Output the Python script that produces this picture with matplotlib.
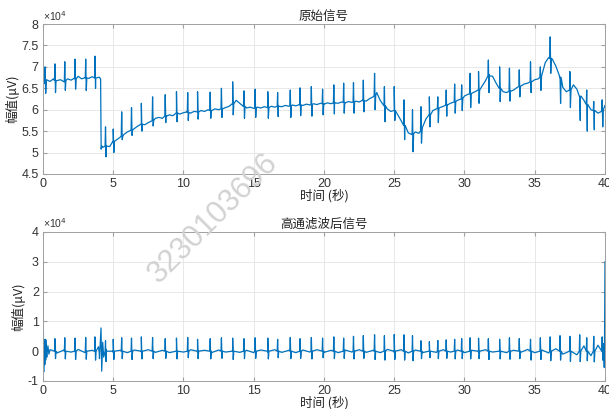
import numpy as np
import matplotlib
matplotlib.use('Agg')
import matplotlib.pyplot as plt

plt.rcParams['font.family'] = ['Liberation Sans', 'Noto Sans CJK SC', 'DejaVu Sans']
CJK = ['Noto Sans CJK SC', 'DejaVu Sans']

# ---------------- data (values in units of 1e4 uV) ----------------
# raw-signal baseline, sampled every 0.25 s from 0 to 40 s
base_step = 0.25
base_v = [
    6.60, 6.70, 6.66, 6.72, 6.68, 6.70, 6.65, 6.72,
    6.69, 6.74, 6.78, 6.72, 6.75, 6.73, 6.77, 6.72,
    6.76, 5.12, 5.16, 5.14, 5.26, 5.30, 5.36, 5.42,
    5.48, 5.52, 5.56, 5.62, 5.66, 5.65, 5.70, 5.74,
    5.80, 5.82, 5.80, 5.86, 5.88, 5.86, 5.92, 5.90,
    5.93, 5.95, 5.92, 5.96, 5.95, 5.98, 5.96, 6.00,
    5.98, 6.02, 6.00, 6.03, 6.05, 6.08, 6.14, 6.22,
    6.15, 6.08, 6.04, 6.06, 6.03, 6.06, 6.04, 6.07,
    6.05, 6.08, 6.06, 6.09, 6.07, 6.10, 6.08, 6.11,
    6.09, 6.12, 6.10, 6.13, 6.11, 6.14, 6.12, 6.15,
    6.13, 6.16, 6.14, 6.17, 6.15, 6.18, 6.16, 6.19,
    6.17, 6.20, 6.18, 6.22, 6.20, 6.26, 6.30, 6.40,
    6.22, 6.10, 6.02, 5.96, 5.98, 5.88, 5.74, 5.60,
    5.46, 5.42, 5.48, 5.45, 5.58, 5.78, 5.88, 5.98,
    6.02, 6.05, 6.08, 6.12, 6.15, 6.18, 6.22, 6.25,
    6.32, 6.36, 6.38, 6.42, 6.46, 6.55, 6.68, 6.82,
    6.78, 6.62, 6.50, 6.42, 6.40, 6.44, 6.46, 6.52,
    6.55, 6.60, 6.62, 6.66, 6.70, 6.72, 6.80, 7.10,
    7.22, 7.18, 7.02, 6.80, 6.52, 6.42, 6.46, 6.58,
    6.48, 6.30, 6.22, 6.10, 6.00, 5.98, 5.92, 5.96,
    6.10,
]

# electrode shift around 4.1 s in the raw signal
drop_t = [4.10, 4.14, 4.18]
drop_v = [6.72, 5.08, 5.16]

# heart beats (R peak times) and the levels
beat_t = [0.15, 0.85, 1.55, 2.28, 3.04, 3.70, 4.45, 5.00, 5.60, 6.30,
          7.00, 7.80, 8.70, 9.50, 10.30, 11.00, 11.90, 12.70, 13.50, 14.30,
          15.10, 16.00, 16.70, 17.60, 18.30, 19.10, 19.90, 20.70, 21.40, 22.10,
          22.80, 23.60, 24.30, 25.00, 25.70, 26.30, 26.90, 27.50, 28.10, 28.70,
          29.30, 29.80, 30.40, 31.00, 31.70, 32.50, 33.20, 33.90, 34.70, 35.40,
          36.10, 36.80, 37.50, 38.20, 38.70, 39.20, 39.80]
raw_level = [6.62, 6.68, 6.68, 6.72, 6.74, 6.74, 5.15, 5.26, 5.38, 5.53,
             5.66, 5.75, 5.85, 5.92, 5.94, 5.95, 5.98, 6.02, 6.14, 6.08,
             6.04, 6.05, 6.08, 6.09, 6.11, 6.12, 6.14, 6.16, 6.17, 6.18,
             6.21, 6.33, 6.09, 5.98, 5.63, 5.44, 5.50, 5.88, 6.03, 6.11,
             6.19, 6.26, 6.37, 6.46, 6.79, 6.50, 6.43, 6.54, 6.65, 6.76,
             7.20, 6.75, 6.46, 6.32, 6.12, 5.98, 6.00]
raw_peak = [7.00, 7.07, 7.12, 7.18, 7.18, 7.25, 5.60, 5.55, 5.95, 6.05,
            6.15, 6.30, 6.35, 6.42, 6.40, 6.42, 6.41, 6.50, 6.65, 6.44,
            6.48, 6.42, 6.40, 6.46, 6.51, 6.54, 6.48, 6.58, 6.62, 6.63,
            6.69, 6.85, 6.54, 6.54, 6.23, 6.00, 6.07, 6.30, 6.30, 6.46,
            6.60, 6.58, 6.85, 6.89, 7.16, 7.00, 6.97, 6.93, 7.12, 7.00,
            7.70, 6.77, 6.89, 6.30, 6.46, 6.19, 6.23]
raw_trough = [6.38, 6.40, 6.45, 6.48, 6.45, 6.50, 4.90, 5.00, 5.30, 5.40,
              5.50, 5.62, 5.70, 5.72, 5.75, 5.78, 5.80, 5.82, 5.88, 5.80,
              5.82, 5.80, 5.84, 5.82, 5.86, 5.85, 5.88, 5.90, 5.92, 5.92,
              5.95, 6.00, 5.72, 5.75, 5.30, 5.02, 5.22, 5.60, 5.70, 5.85,
              5.92, 5.98, 6.05, 6.15, 6.40, 6.19, 6.20, 6.30, 6.40, 6.45,
              6.85, 6.15, 6.05, 5.75, 5.50, 5.53, 5.60]
hp_peak = [0.40, 0.42, 0.45, 0.44, 0.46, 0.48, 0.35, 0.40, 0.45, 0.44,
           0.48, 0.46, 0.42, 0.44, 0.46, 0.40, 0.42, 0.45, 0.44, 0.42,
           0.45, 0.44, 0.40, 0.46, 0.42, 0.46, 0.44, 0.48, 0.44, 0.50,
           0.52, 0.55, 0.52, 0.56, 0.55, 0.52, 0.35, 0.32, 0.36, 0.38,
           0.40, 0.42, 0.45, 0.44, 0.42, 0.40, 0.45, 0.42, 0.40, 0.45,
           0.48, 0.52, 0.50, 0.55, 0.45, 0.50, 0.48]
hp_trough = [-0.30, -0.25, -0.26, -0.28, -0.27, -0.30, -0.35, -0.28, -0.25, -0.28,
             -0.26, -0.25, -0.24, -0.26, -0.22, -0.25, -0.26, -0.24, -0.28, -0.25,
             -0.24, -0.26, -0.22, -0.25, -0.24, -0.26, -0.22, -0.25, -0.24, -0.26,
             -0.24, -0.28, -0.30, -0.28, -0.30, -0.32, -0.25, -0.22, -0.25, -0.24,
             -0.26, -0.25, -0.26, -0.25, -0.28, -0.26, -0.27, -0.25, -0.30, -0.28,
             -0.32, -0.30, -0.34, -0.35, -0.32, -0.36, -0.30]

# filtered signal: residual ripple every 0.5 s from 0.5 to 39.5 s
hp_noise_step = 0.5
hp_noise_v = [
    0.05, -0.06, 0.04, -0.03, 0.06, -0.05, 0.03, -0.04,
    0.06, -0.04, 0.03, -0.05, 0.04, -0.03, 0.05, -0.04,
    0.03, -0.05, 0.04, -0.03, 0.05, -0.04, 0.03, -0.05,
    0.04, -0.03, 0.06, -0.04, 0.03, -0.05, 0.04, -0.03,
    0.05, -0.04, 0.03, -0.05, 0.04, -0.03, 0.05, -0.04,
    0.03, -0.05, 0.04, -0.03, 0.05, -0.04, 0.03, -0.05,
    0.06, -0.04, 0.05, -0.06, 0.04, -0.05, 0.03, -0.04,
    0.05, -0.03, 0.04, -0.05, 0.03, -0.04, 0.05, -0.03,
    0.04, -0.05, 0.03, -0.04, 0.06, -0.05, 0.04, -0.06,
    0.08, -0.10, 0.14, -0.12, 0.18, -0.15, 0.20,
]
# filter edge transients and the 4.1 s artefact
hp_start_t = [0.00, 0.02, 0.05, 0.09, 0.13, 0.20, 0.27, 0.35, 0.42]
hp_start_v = [3.05, 1.20, -0.70, 0.35, -0.45, 0.38, -0.20, 0.18, -0.10]
hp_art_t = [3.95, 4.02, 4.08, 4.13, 4.18, 4.25, 4.32]
hp_art_v = [0.15, -0.25, 0.30, 0.78, -0.67, 0.30, -0.20]
hp_end_t = [39.90, 39.95, 39.97, 40.00]
hp_end_v = [0.25, -0.55, 0.50, 3.00]

# ---------------- build series ----------------
bt = np.array(beat_t)
# each beat: level -> R peak -> S trough -> level
spike_dt = [-0.03, 0.0, 0.04, 0.08]

base_t = np.arange(len(base_v)) * base_step
raw_t = np.concatenate([base_t, drop_t] + [bt + d for d in spike_dt])
raw_v = np.concatenate([base_v, drop_v, raw_level, raw_peak, raw_trough, raw_level])
o = np.argsort(raw_t, kind='stable')
raw_t, raw_v = raw_t[o], raw_v[o]

zeros = np.zeros(len(beat_t))
noise_t = 0.5 + np.arange(len(hp_noise_v)) * hp_noise_step
hp_t = np.concatenate([noise_t, hp_start_t, hp_art_t, hp_end_t] + [bt + d for d in spike_dt])
hp_v = np.concatenate([hp_noise_v, hp_start_v, hp_art_v, hp_end_v,
                       zeros, hp_peak, hp_trough, zeros])
o = np.argsort(hp_t, kind='stable')
hp_t, hp_v = hp_t[o], hp_v[o]

# ---------------- figure ----------------
fig = plt.figure(figsize=(6.09, 4.09), dpi=100)
ax1 = fig.add_axes([0.0706, 0.5746, 0.9228, 0.3667])
ax2 = fig.add_axes([0.0706, 0.0685, 0.9228, 0.3643])

line_color = '#0072BD'
ax1.plot(raw_t, raw_v, color=line_color, lw=0.9)
ax2.plot(hp_t, hp_v, color=line_color, lw=0.9)

def style(ax, yticks, title):
    ax.set_xlim(0, 40)
    ax.set_xticks(np.arange(0, 41, 5))
    ax.set_yticks(yticks)
    ax.set_ylim(yticks[0], yticks[-1])
    ax.set_yticklabels(['%g' % v for v in yticks])
    ax.grid(True, color='#e4e4e4', lw=0.6)
    ax.set_axisbelow(True)
    for s in ax.spines.values():
        s.set_color('#a0a0a0')
        s.set_linewidth(0.7)
    ax.tick_params(direction='in', top=True, right=True, length=3,
                   color='#a0a0a0', labelsize=9, labelcolor='#333333', pad=3)
    ax.set_title(title, fontsize=9, family=CJK, color='#222222', pad=3)
    ax.set_xlabel('时间 (秒)', fontsize=9, family=CJK, color='#222222', labelpad=-1)
    ax.set_ylabel('幅值(μV)', fontsize=9, family=CJK, color='#222222', labelpad=2)
    ax.text(0.0, 1.01, '×10$^{4}$', transform=ax.transAxes, fontsize=7.5,
            color='#333333', ha='left', va='bottom')

style(ax1, [4.5, 5, 5.5, 6, 6.5, 7, 7.5, 8], '原始信号')
style(ax2, [-1, 0, 1, 2, 3, 4], '高通滤波后信号')

fig.text(213 / 609, 1 - 218 / 409, '3230103696', rotation=45, fontsize=22,
         color='#d2d2d2', ha='center', va='center', zorder=10)

fig.savefig('out.png', dpi=100)
